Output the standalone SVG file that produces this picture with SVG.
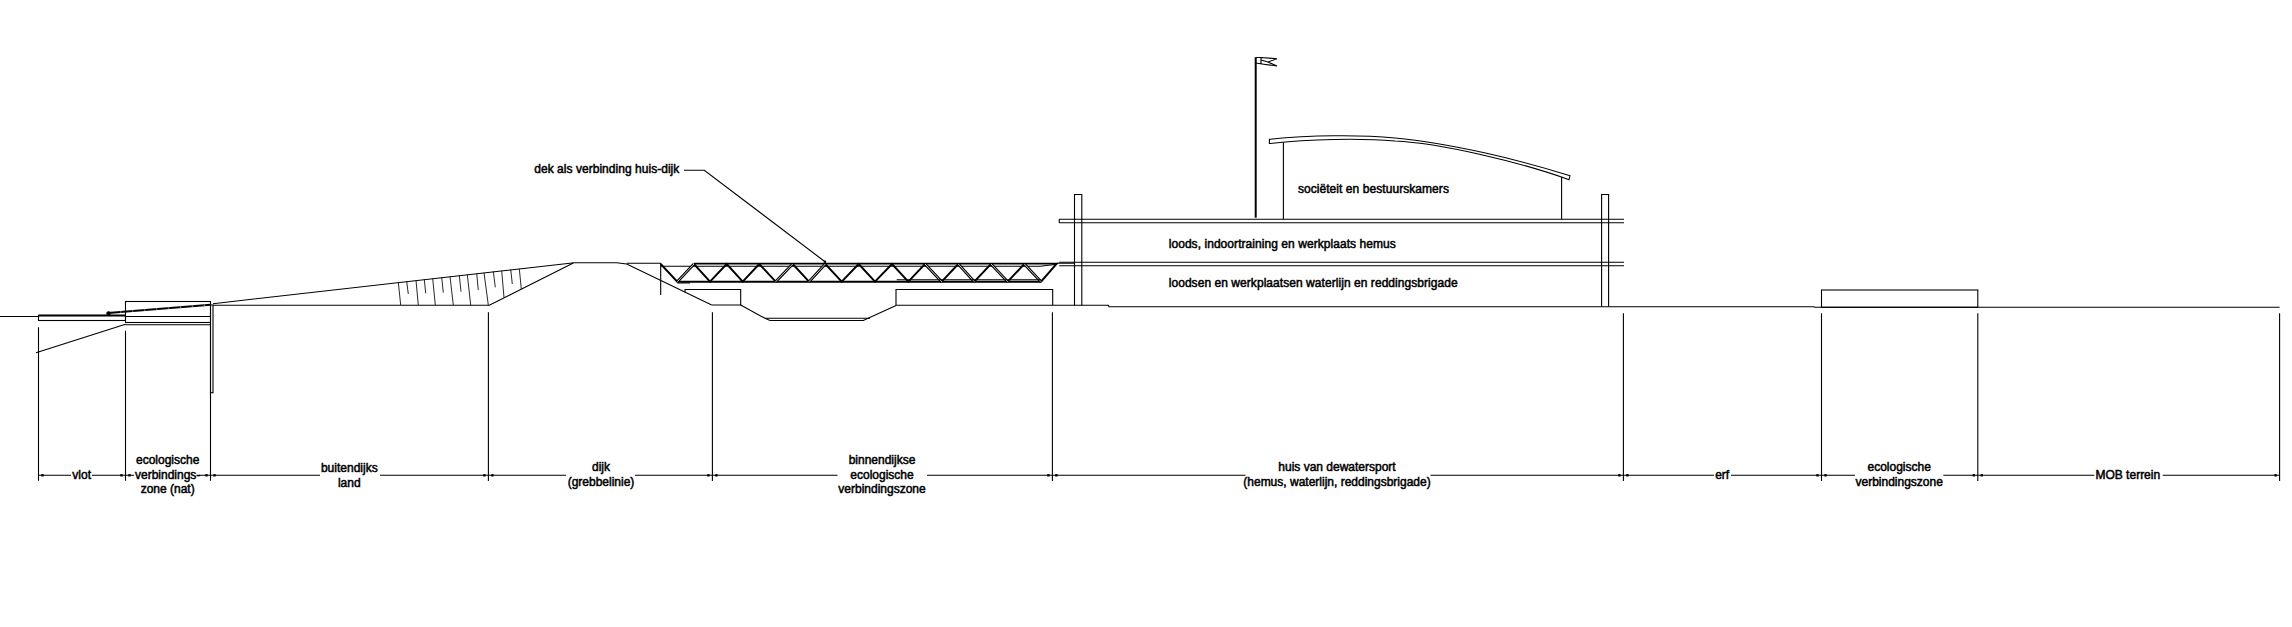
<svg xmlns="http://www.w3.org/2000/svg" xmlns:xlink="http://www.w3.org/1999/xlink" width="2292" height="627" viewBox="0 0 2292 627">
<style>
.l{fill:none;stroke:#000;stroke-width:1.1}
.t{fill:none;stroke:#000;stroke-width:1.9}
.h{fill:none;stroke:#111;stroke-width:.9}
text{font-family:"Liberation Sans",Arial,sans-serif;font-size:12px;fill:#000;stroke:#000;stroke-width:.5;text-anchor:middle}
text.s{text-anchor:start}
.d{fill:#000}
</style>
<defs>
<g id="dbl">
<path d="M677.3 281.7L694 264M775.7 281.7L792.7 264M809 281.7L825.3 264M925 264L941.7 281.7M958.3 264L974.3 281.7M991 264L1007.7 281.7M1024.3 264L1041 281.7"/>
</g>
<rect id="dot" x="-1.2" y="-1.2" width="2.4" height="2.4" class="d"/>
</defs>
<rect width="2292" height="627" fill="#fff"/>

<g id="terrain-left">
<path class="l" d="M0 316.5H38.5"/>
<rect class="l" x="38.5" y="315.5" width="87" height="5"/>
<path class="t" d="M38.5 315.5H125"/>
<rect class="l" x="125.5" y="301.5" width="85" height="21"/>
<path class="l" d="M125.5 316.5H210.5M125.5 324.7H210.5M36 352.7L125.5 324.3"/>
<path class="t" d="M108 313L210.7 304.7"/>
<path d="M108 313L210.7 304.7" fill="none" stroke="#fff" stroke-width=".7" stroke-dasharray="1.5 10.5"/>
<circle cx="108.5" cy="313.5" r="2.2" class="d"/>
<rect class="l" x="210.5" y="305" width="2.5" height="87.7"/>
</g>

<g id="dijk">
<path class="l" d="M213 303.7L574.3 262.7H616.7L626.7 264L711.7 305"/>
<path class="l" d="M213 305.3H489.3L573.3 263"/>
<path class="l" d="M626.7 263.2H660.7"/>
<path class="h" d="M398.3 282.3L400.7 305M416 280.3L418.3 305M432.7 278.5L435.3 305M450 276.5L453.3 305M467.3 274.6L470.7 305M484 272.7L488.3 305M501.7 270.7L504 297.7M519.3 268.7L521.3 289M406.7 281.3L408.3 294M424.3 279.3L425.7 293.3M441.7 277.3L443.3 292.7M459.3 275.3L461 291.7M476.7 273.3L478.3 290M493.3 271.3L495.3 287.3M510.7 269.3L512.3 284"/>
</g>

<g id="binnendijks">
<path class="l" d="M711.7 305H740.7V289.5H685V292.5"/>
<path class="l" d="M740.7 305L765 318.3L770 320.5H863.3L896 305.5"/>
<path class="l" d="M765 318.3H870"/>
<path class="l" d="M896 305.5V289.5H1052.7V305.2M896 305.2H1108.4L1109 306.7H1814L1814.5 307.3H2279.6"/>
</g>

<g id="dek">
<path class="l" d="M660.7 263V295M660.7 266.3H1040L1055 264.5M1057 263.3H1074"/>
<path class="t" d="M694 263.6H1056.7L1041 281.7H677.3L660.7 264"/>
<path class="t" d="M694 264L710 281.7L726.7 264L742.7 281.7L759.3 264M759.3 264L775.7 281.7M792.7 264L809 281.7M825.3 264L841.7 281.7L858.7 264L875 281.7L892 264L908.3 281.7L925 264M941.7 281.7L958.3 264M974.3 281.7L991 264M1007.7 281.7L1024.3 264"/>
<use xlink:href="#dbl" fill="none" stroke="#000" stroke-width="2.8"/>
<use xlink:href="#dbl" fill="none" stroke="#fff" stroke-width=".8"/>
<path class="l" d="M896.7 279.8H1041M677.3 283H690"/>
</g>

<g id="gebouw">
<path class="l" d="M1059.2 219.3H1624M1059.2 222.7H1624M1059.2 219.3V222.7M1059.2 262.3H1624M1059.2 265.7H1624"/>
<path class="l" d="M1074.5 305.5V194.5H1081.8V305.5M1601.6 306.5V194.5H1608.6V306.5"/>
<path class="l" d="M1269.4 139.3C1310 135 1360 134.5 1395 138C1450 143 1520 160 1570 175.7L1569 179.7C1520 162 1440 143 1395 141C1360 138 1310 139 1269.4 143.5Z"/>
<path class="l" d="M1283.4 142.5V219M1561.6 176.7V219"/>
</g>

<g id="vlag">
<path d="M1255.7 57.3V217.7" fill="none" stroke="#000" stroke-width="2"/>
<path class="l" d="M1255.5 57.5H1261L1277 58.7L1268 62L1277 66L1262 64L1255.5 63M1261 57.5V64M1261 60L1268 62"/>
</g>

<g id="kavel">
<rect class="l" x="1821.5" y="290" width="156.3" height="17.3"/>
</g>

<g id="connectors">
<path class="l" d="M684 170.3H704.3L825 261.7"/>
<path class="l" d="M38.5 327.3V480.7M125.5 330.7V480.7M210.5 324V480.7M488.4 312.3V481M712.4 312.3V481M1052.4 312.3V481M1623.4 313.3V481M1821.5 313.3V481M1977.8 313.3V481M2279.6 313.3V481"/>
<path class="l" d="M38.5 475.3H71M92 475.3H134M199 475.3H320M380 475.3H566M635 475.3H837.5M927 475.3H1245.5M1430.5 475.3H1713.9M1731 475.3H1855M1943.3 475.3H2094.3M2162.7 475.3H2279.6"/>
<g>
<use xlink:href="#dot" x="42.5" y="475.3"/><use xlink:href="#dot" x="121.5" y="475.3"/>
<use xlink:href="#dot" x="129.5" y="475.3"/><use xlink:href="#dot" x="206.5" y="475.3"/>
<use xlink:href="#dot" x="214.5" y="475.3"/><use xlink:href="#dot" x="484.4" y="475.3"/>
<use xlink:href="#dot" x="492.4" y="475.3"/><use xlink:href="#dot" x="708.4" y="475.3"/>
<use xlink:href="#dot" x="716.4" y="475.3"/><use xlink:href="#dot" x="1048.4" y="475.3"/>
<use xlink:href="#dot" x="1056.4" y="475.3"/><use xlink:href="#dot" x="1619.4" y="475.3"/>
<use xlink:href="#dot" x="1627.4" y="475.3"/><use xlink:href="#dot" x="1817.5" y="475.3"/>
<use xlink:href="#dot" x="1825.5" y="475.3"/><use xlink:href="#dot" x="1973.8" y="475.3"/>
<use xlink:href="#dot" x="1981.8" y="475.3"/><use xlink:href="#dot" x="2275.6" y="475.3"/>
</g>
<circle cx="825" cy="261.7" r="1.3" class="d"/>
</g>

<g id="labels">
<text class="s" x="534.3" y="173.3" textLength="145">dek als verbinding huis-dijk</text>
<text class="s" x="1297.9" y="193.3" textLength="151">sociëteit en bestuurskamers</text>
<text class="s" x="1168.7" y="248.3" textLength="227">loods, indoortraining en werkplaats hemus</text>
<text class="s" x="1168.7" y="287.3" textLength="289">loodsen en werkplaatsen waterlijn en reddingsbrigade</text>
<text x="81.7" y="478.7">vlot</text>
<text x="167.7" y="463.7">ecologische</text>
<text x="167.7" y="478.7">verbindings-</text>
<text x="167.7" y="492.7">zone (nat)</text>
<text x="349.3" y="472.3">buitendijks</text>
<text x="349.3" y="486.7">land</text>
<text x="601" y="471">dijk</text>
<text x="601" y="486">(grebbelinie)</text>
<text x="882" y="464">binnendijkse</text>
<text x="882" y="478.7">ecologische</text>
<text x="882" y="492.7">verbindingszone</text>
<text x="1337" y="471">huis van dewatersport</text>
<text x="1337" y="486">(hemus, waterlijn, reddingsbrigade)</text>
<text x="1722.2" y="479.3">erf</text>
<text x="1899.2" y="471">ecologische</text>
<text x="1899.2" y="486">verbindingszone</text>
<text x="2127.8" y="479.3">MOB terrein</text>
</g>
</svg>
